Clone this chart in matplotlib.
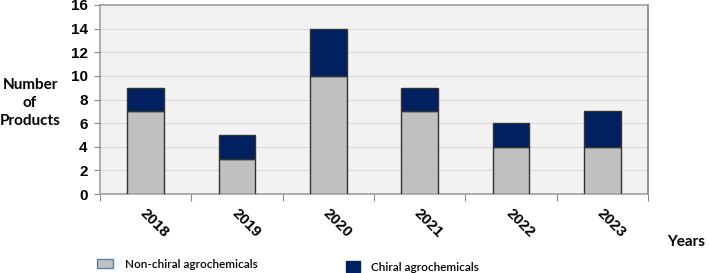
import matplotlib
matplotlib.use("Agg")
import matplotlib.pyplot as plt
import matplotlib.transforms as mtransforms
from matplotlib.patches import Patch

years = ["2018", "2019", "2020", "2021", "2022", "2023"]
non_chiral = [7, 3, 10, 7, 4, 4]
chiral = [2, 2, 4, 2, 2, 3]
yticks = [0, 2, 4, 6, 8, 10, 12, 14, 16]

W, H = 709, 273
fig = plt.figure(figsize=(W / 100, H / 100), dpi=100)
ax = fig.add_axes([100 / W, 1 - 194 / H, 548 / W, 189 / H])
ax.set_facecolor("#f2f2f2")

x = list(range(len(years)))
grey = "#c0c0c0"
navy = "#002060"
b1 = ax.bar(x, non_chiral, width=0.4, color=grey, edgecolor="#333333", linewidth=1.0, zorder=3)
b2 = ax.bar(x, chiral, bottom=non_chiral, width=0.4, color=navy, edgecolor="#333333", linewidth=1.0, zorder=3)

ax.set_xlim(-0.5, len(years) - 0.5)
ax.set_ylim(0, 16)
ax.set_yticks(yticks)
ax.set_yticklabels([str(v) for v in yticks], fontfamily="Liberation Sans", fontweight="bold", fontsize=11)
ax.yaxis.grid(True, color="#dcdcdc", linewidth=0.9, zorder=0)
ax.set_axisbelow(True)
ax.tick_params(axis="y", length=4, color="#888888", pad=5)

# category boundary ticks on x
ax.set_xticks([i - 0.5 for i in range(len(years) + 1)])
ax.set_xticklabels([])
ax.tick_params(axis="x", length=5, color="#888888", direction="out")
ax.set_xticks(x, minor=True)
offset = mtransforms.ScaledTranslation(9 / 100, -2 / 100, fig.dpi_scale_trans)
ax.set_xticklabels(years, minor=True, rotation=-45, ha="center", va="top",
                   fontfamily="Liberation Sans", fontweight="bold", fontsize=11)
ax.tick_params(axis="x", which="minor", length=0, pad=7)
for lab in ax.get_xticklabels(minor=True):
    lab.set_transform(lab.get_transform() + offset)

for side, c in [("left", "#a0a0a0"), ("bottom", "#a0a0a0"), ("top", "#a0a0a0"), ("right", "#7f7f7f")]:
    ax.spines[side].set_color(c)
    ax.spines[side].set_linewidth(1.2)

fig.text(30 / W, 1 - 103 / H, "Number\nof\nProducts", ha="center", va="center",
         fontfamily="Lato", fontweight="bold", fontsize=11, linespacing=1.35)
fig.text(686 / W, 1 - 242 / H, "Years", ha="center", va="center",
         fontfamily="Lato", fontweight="bold", fontsize=11)

h1 = Patch(facecolor=grey, edgecolor="#5b7fa6", linewidth=1.0)
h2 = Patch(facecolor=navy, edgecolor=navy, linewidth=1.0)
leg1 = fig.legend(handles=[h1], labels=["Non-chiral agrochemicals"], loc="center left",
                  bbox_to_anchor=(97 / W, 1 - 264 / H), frameon=False,
                  prop={"family": "Lato", "weight": "semibold", "size": 8.5},
                  handlelength=1.35, handleheight=0.9, handletextpad=1.0, borderpad=0, borderaxespad=0)
leg2 = fig.legend(handles=[h2], labels=["Chiral agrochemicals"], loc="center left",
                  bbox_to_anchor=(346 / W, 1 - 267 / H), frameon=False,
                  prop={"family": "Lato", "weight": "semibold", "size": 8.5},
                  handlelength=1.15, handleheight=1.1, handletextpad=1.0, borderpad=0, borderaxespad=0)

fig.savefig("out.png", dpi=100)
